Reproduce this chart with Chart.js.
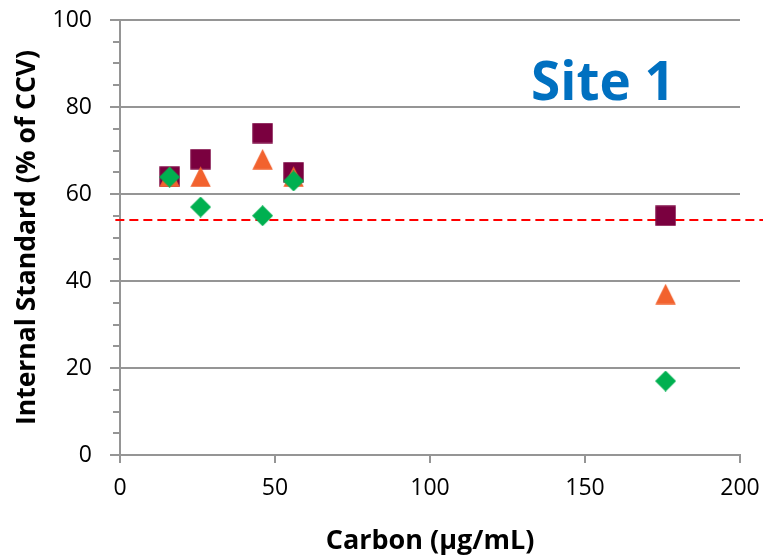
<!DOCTYPE html>
<html>
<head>
<meta charset="utf-8">
<script src="https://cdn.jsdelivr.net/npm/chart.js@4/dist/chart.umd.min.js"></script>
<style>
  html, body { margin: 0; padding: 0; background: #ffffff; }
  #wrap { width: 763px; height: 555px; }
</style>
</head>
<body>
<div id="wrap"><canvas id="c" width="763" height="555"></canvas></div>
<script>
// Carbon concentration of each sample (µg/mL)
const carbon = [16, 26, 46, 56, 176];
// Internal standard recovery, % of CCV, one list per standard
const squareSeries = [64, 68, 74, 65, 55];
const triangleSeries = [64, 64, 68, 64, 37];
const diamondSeries = [63.9, 57, 55, 63, 17];
// Acceptance limit drawn as a dashed line
const limitX = [-1.5, 207.5];
const limitY = 54;
// Axis tick labels
const xTicks = [0, 50, 100, 150, 200];
const yTicks = [0, 20, 40, 60, 80, 100];

const FONT = "'Open Sans', 'Noto Sans', sans-serif";
const GRID = '#959595';

function marker(kind, color) {
  const s = 21;
  const c = document.createElement('canvas');
  c.width = s; c.height = s;
  const g = c.getContext('2d');
  g.fillStyle = color;
  g.beginPath();
  if (kind === 'square') {
    g.rect(0.3, 0.3, s - 0.6, s - 0.6);
  } else if (kind === 'triangle') {
    g.moveTo(s / 2, 0.3);
    g.lineTo(s - 0.3, s - 0.3);
    g.lineTo(0.3, s - 0.3);
  } else {
    g.moveTo(s / 2, 0);
    g.lineTo(s, s / 2);
    g.lineTo(s / 2, s);
    g.lineTo(0, s / 2);
  }
  g.closePath();
  g.fill();
  return c;
}

const pts = (xs, ys) => xs.map((x, i) => ({ x, y: ys[i] }));

// Minor tick marks on the value axis every 5 units
const minorTicks = {
  id: 'minorTicks',
  afterDraw(chart) {
    const y = chart.scales.y;
    const ctx = chart.ctx;
    ctx.save();
    ctx.strokeStyle = GRID;
    ctx.lineWidth = 2;
    for (let v = 0; v <= 100; v += 5) {
      if (v % 20 === 0) continue;
      const py = Math.round(y.getPixelForValue(v));
      ctx.beginPath();
      ctx.moveTo(y.right - 7, py);
      ctx.lineTo(y.right, py);
      ctx.stroke();
    }
    ctx.restore();
  }
};

// Site label inside the plot area
const siteLabel = {
  id: 'siteLabel',
  afterDraw(chart) {
    const ctx = chart.ctx;
    ctx.save();
    ctx.font = "bold 53px " + FONT;
    ctx.fillStyle = '#0070C0';
    ctx.textAlign = 'center';
    ctx.textBaseline = 'alphabetic';
    ctx.fillText('Site 1', 603, 100);
    ctx.restore();
  }
};

new Chart(document.getElementById('c'), {
  type: 'scatter',
  data: {
    datasets: [
      {
        label: 'Limit',
        type: 'line',
        data: pts(limitX, [limitY, limitY]),
        borderColor: '#FF0000',
        borderWidth: 2,
        borderDash: [9, 5],
        pointRadius: 0,
        clip: false,
        order: 4
      },
      {
        label: 'Standard A',
        data: pts(carbon, squareSeries),
        pointStyle: marker('square', '#7A003F'),
        pointRadius: 10,
        order: 3
      },
      {
        label: 'Standard B',
        data: pts(carbon, triangleSeries),
        pointStyle: marker('triangle', '#F2622E'),
        pointRadius: 10,
        order: 2
      },
      {
        label: 'Standard C',
        data: pts(carbon, diamondSeries),
        pointStyle: marker('diamond', '#00B050'),
        pointRadius: 10,
        order: 1
      }
    ]
  },
  options: {
    responsive: false,
    animation: false,
    events: [],
    layout: { padding: { left: 0, right: 23, top: 20, bottom: 0 } },
    plugins: { legend: { display: false }, tooltip: { enabled: false } },
    scales: {
      x: {
        type: 'linear',
        min: 0, max: 200,
        afterBuildTicks: s => { s.ticks = xTicks.map(v => ({ value: v })); },
        afterFit: s => { s.height = 100; s.paddingLeft = 0; s.paddingRight = 0; },
        grid: { drawOnChartArea: false, drawTicks: true, tickLength: 8, color: GRID, lineWidth: 2 },
        border: { display: true, color: GRID, width: 2 },
        ticks: { font: { family: FONT, size: 23 }, color: '#000', padding: 12, maxRotation: 0 },
        title: { display: true, text: 'Carbon (µg/mL)', font: { family: FONT, size: 27, weight: 'bold' }, color: '#000', padding: { top: 0, bottom: -3 } }
      },
      y: {
        type: 'linear',
        min: 0, max: 100,
        afterBuildTicks: s => { s.ticks = yTicks.map(v => ({ value: v })); },
        afterFit: s => { s.width = 120; s.paddingTop = 0; s.paddingBottom = 0; },
        grid: { drawTicks: true, tickLength: 10, color: GRID, lineWidth: 2 },
        border: { display: true, color: GRID, width: 2 },
        ticks: { font: { family: FONT, size: 23 }, color: '#000', padding: 18 },
        title: { display: true, text: 'Internal Standard (% of CCV)', font: { family: FONT, size: 26.5, weight: 'bold' }, color: '#000', padding: { top: 12, bottom: 0 } }
      }
    }
  },
  plugins: [minorTicks, siteLabel]
});
</script>
</body>
</html>
